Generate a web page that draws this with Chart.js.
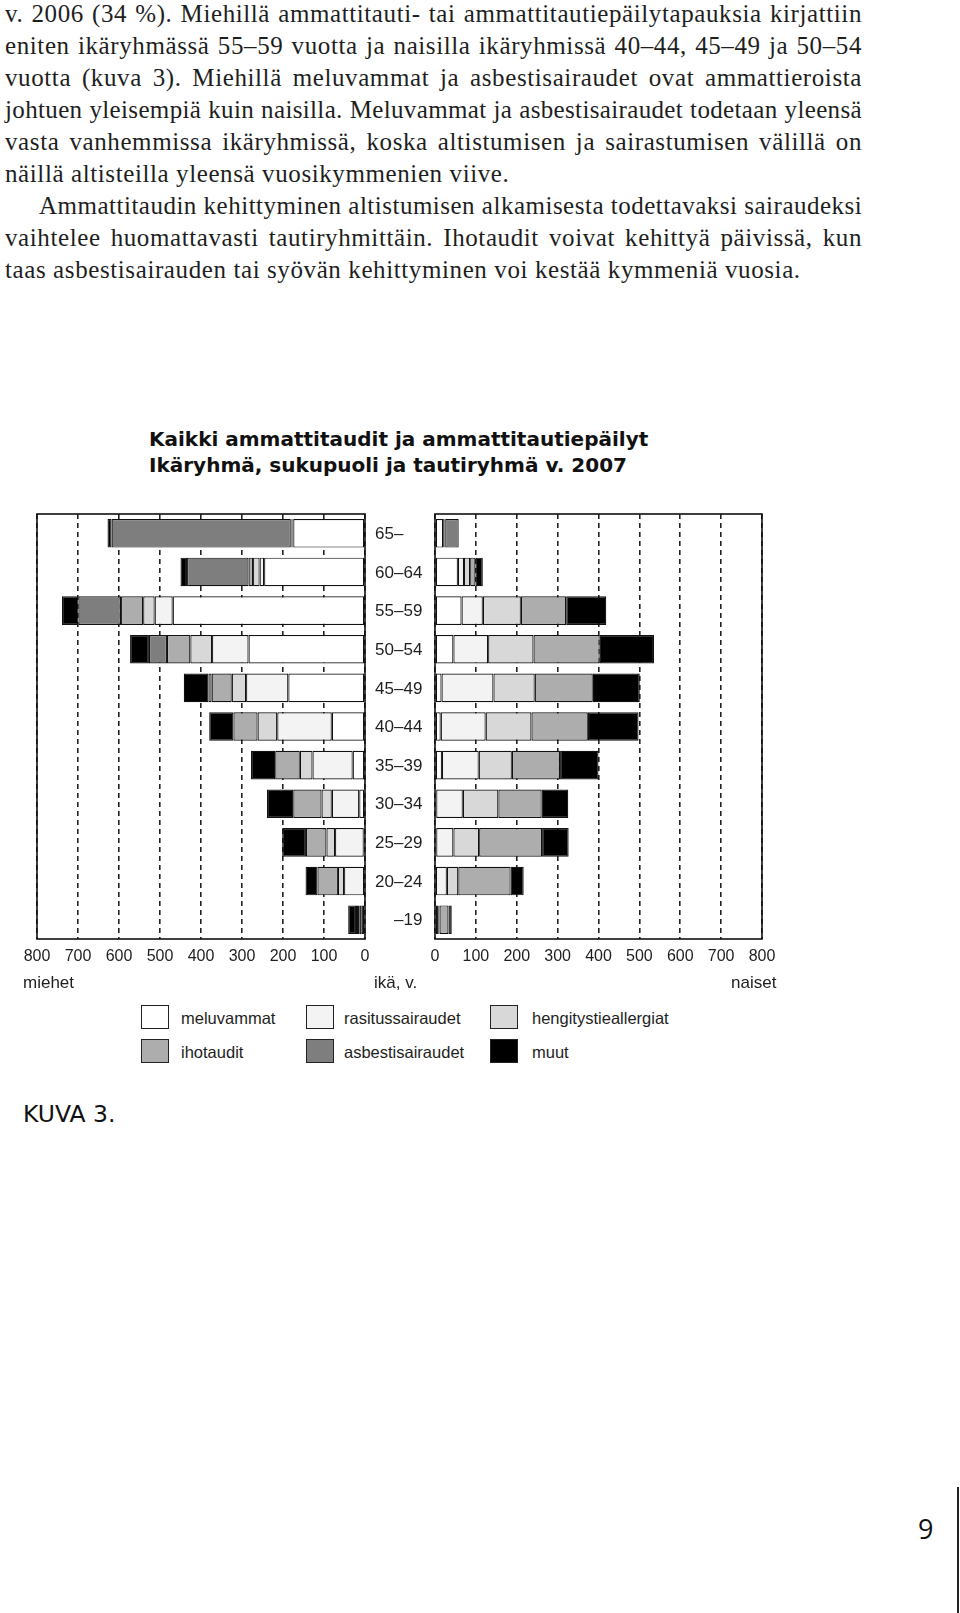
<!DOCTYPE html>
<html>
<head>
<meta charset="utf-8">
<script src="https://cdn.jsdelivr.net/npm/chart.js@4"></script>
<style>
  html, body { margin: 0; padding: 0; background: #fff; }
  body { width: 960px; height: 1613px; position: relative; overflow: hidden; color: #1e1e1e; }
  .txt { position: absolute; left: 5px; width: 857px; font-family: "Liberation Serif", serif; font-size: 25px; line-height: 32px; letter-spacing: 0.6px; }
  .ln { height: 32px; text-align: justify; text-align-last: justify; white-space: nowrap; }
  .ln.last { text-align-last: left; }
  .ln.ind { padding-left: 34px; }
  .title { position: absolute; left: 149px; top: 426px; font-family: "DejaVu Sans", sans-serif; font-weight: bold; font-size: 20px; line-height: 26px; color: #111; }
  .ab { position: absolute; font-family: "Liberation Sans", Arial, sans-serif; font-size: 17px; line-height: 20px; color: #1e1e1e; }
  canvas { position: absolute; }
  .lg { position: absolute; font-family: "Liberation Sans", Arial, sans-serif; font-size: 16.5px; color: #1e1e1e; }
  .lg .box { position: absolute; width: 26px; height: 22px; border: 1.5px solid #222; }
  .lg .lab { position: absolute; white-space: nowrap; line-height: 20px; }
  .kuva { position: absolute; left: 23px; top: 1100px; font-family: "DejaVu Sans", sans-serif; font-size: 23.5px; color: #111; }
  .pnum { position: absolute; left: 918px; top: 1510px; font-family: "Open Sans", sans-serif; font-size: 27px; color: #111; }
  .vline { position: absolute; left: 957px; top: 1487px; width: 1.5px; height: 130px; background: #222; }
</style>
</head>
<body>
<div class="txt" style="top:-2px">
  <div class="ln">v. 2006 (34 %). Miehillä ammattitauti- tai ammattitautiepäilytapauksia kirjattiin</div>
  <div class="ln">eniten ikäryhmässä 55–59 vuotta ja naisilla ikäryhmissä 40–44, 45–49 ja 50–54</div>
  <div class="ln">vuotta (kuva 3). Miehillä meluvammat ja asbestisairaudet ovat ammattieroista</div>
  <div class="ln">johtuen yleisempiä kuin naisilla. Meluvammat ja asbestisairaudet todetaan yleensä</div>
  <div class="ln">vasta vanhemmissa ikäryhmissä, koska altistumisen ja sairastumisen välillä on</div>
  <div class="ln last">näillä altisteilla yleensä vuosikymmenien viive.</div>
  <div class="ln ind">Ammattitaudin kehittyminen altistumisen alkamisesta todettavaksi sairaudeksi</div>
  <div class="ln">vaihtelee huomattavasti tautiryhmittäin. Ihotaudit voivat kehittyä päivissä, kun</div>
  <div class="ln last">taas asbestisairauden tai syövän kehittyminen voi kestää kymmeniä vuosia.</div>
</div>

<div class="title">Kaikki ammattitaudit ja ammattitautiepäilyt<br>Ikäryhmä, sukupuoli ja tautiryhmä v. 2007</div>

<canvas id="men" width="380" height="480" style="left:0;top:500px;width:380px;height:480px"></canvas>
<canvas id="women" width="440" height="480" style="left:360px;top:500px;width:440px;height:480px"></canvas>

<div class="ab" style="left:23px;top:973px">miehet</div>
<div class="ab" style="left:374px;top:973px">ikä, v.</div>
<div class="ab" style="left:731px;top:973px">naiset</div>

<div id="legend"></div>

<div class="kuva">KUVA 3.</div>
<div class="pnum">9</div>
<div class="vline"></div>

<script>
// tiivistetään liian pitkät rivit, jotta ne mahtuvat palstaan
document.querySelectorAll('.ln').forEach(el => {
    let ls = 0.6;
    while (el.scrollWidth > el.clientWidth && ls > -1.5) {
        ls -= 0.05;
        el.style.letterSpacing = ls + 'px';
    }
});

// ikäryhmät ylhäältä alas
const ages = ['65–', '60–64', '55–59', '50–54', '45–49', '40–44', '35–39', '30–34', '25–29', '20–24', '–19'];
const groups = ['meluvammat', 'rasitussairaudet', 'hengitystieallergiat', 'ihotaudit', 'asbestisairaudet', 'muut'];
const fills = ['#ffffff', '#f3f3f3', '#d8d8d8', '#adadad', '#7e7e7e', '#000000'];
const xTicks = [0, 100, 200, 300, 400, 500, 600, 700, 800];

// miehet
const menMelu    = [175, 246, 469, 284, 187,  81,  30,  14,   3,   2,  8];
const menRasitus = [  2,  11,  44,  89, 103, 133,  98,  67,  70,  49,  6];
const menHengitys= [  2,  16,  28,  53,  35,  48,  31,  25,  21,  15,  3];
const menIho     = [  2,  11,  54,  57,  49,  59,  60,  69,  50,  50,  5];
const menAsbesti = [437, 150, 104,  44,   8,   0,   0,   0,   0,   0,  0];
const menMuut    = [ 10,  16,  40,  46,  60,  59,  59,  64,  58,  29, 19];

// naiset
const womenMelu    = [20,  56,  65,  45,  16,  14,  17,   3,   3,   2,  5];
const womenRasitus = [ 2,  15,  52,  85, 127, 110,  90,  65,  42,  27,  3];
const womenHengitys= [ 1,  15,  93, 111, 101, 112,  81,  87,  63,  28,  3];
const womenIho     = [ 2,  13, 111, 162, 142, 138, 118, 106, 154, 128, 22];
const womenAsbesti = [33,   0,   0,   0,   0,   0,   0,   0,   0,   0,  0];
const womenMuut    = [ 0,  18,  98, 133, 115, 124,  94,  65,  65,  32,  8];

const menData = [menMelu, menRasitus, menHengitys, menIho, menAsbesti, menMuut];
const womenData = [womenMelu, womenRasitus, womenHengitys, womenIho, womenAsbesti, womenMuut];

Chart.defaults.font.family = '"Liberation Sans", Arial, sans-serif';
Chart.defaults.color = '#1e1e1e';

function makeSets(data) {
    return groups.map((g, i) => ({
        label: g,
        data: data[i],
        backgroundColor: fills[i],
        borderColor: '#111',
        borderWidth: 1.2,
        borderSkipped: false,
        barPercentage: 0.74,
        categoryPercentage: 1
    }));
}

// kehys kuvaajan ympärille
const frame = {
    id: 'frame',
    afterDraw(chart) {
        const a = chart.chartArea, c = chart.ctx;
        c.save();
        c.strokeStyle = '#111';
        c.lineWidth = 1.6;
        c.strokeRect(a.left, a.top, a.right - a.left, a.bottom - a.top);
        c.restore();
    }
};

// ikäryhmien nimet, viivat kohdakkain
const ageLabels = {
    id: 'ageLabels',
    afterDraw(chart) {
        const c = chart.ctx, y = chart.scales.y;
        const dashX = 34;
        c.save();
        c.font = '17px "Liberation Sans", Arial, sans-serif';
        c.fillStyle = '#1e1e1e';
        c.textBaseline = 'middle';
        c.textAlign = 'left';
        ages.forEach((lab, i) => {
            const pre = lab.split('–')[0];
            c.fillText(lab, dashX - c.measureText(pre).width, y.getPixelForValue(i) + 1);
        });
        c.restore();
    }
};

function opts(reverse, pad) {
    return {
        indexAxis: 'y',
        responsive: false,
        animation: false,
        layout: { padding: pad },
        plugins: { legend: { display: false }, tooltip: { enabled: false } },
        scales: {
            x: {
                stacked: true,
                reverse: reverse,
                min: 0, max: 800,
                afterBuildTicks: (s) => { s.ticks = xTicks.map(v => ({ value: v })); },
                afterFit: (s) => { s.height = 41; },
                ticks: { padding: 8, font: { size: 16 }, color: '#1e1e1e' },
                grid: { color: '#222', lineWidth: 1.6, drawTicks: false },
                border: { display: false, dash: [5, 4] }
            },
            y: {
                stacked: true,
                display: false
            }
        }
    };
}

new Chart(document.getElementById('men'), {
    type: 'bar',
    data: { labels: ages, datasets: makeSets(menData) },
    options: opts(true, { left: 37, right: 15, top: 14, bottom: 0 }),
    plugins: [frame]
});

new Chart(document.getElementById('women'), {
    type: 'bar',
    data: { labels: ages, datasets: makeSets(womenData) },
    options: opts(false, { left: 75, right: 38, top: 14, bottom: 0 }),
    plugins: [frame, ageLabels]
});

// selite
const lgPos = [[141, 1005], [306, 1005], [490, 1005], [141, 1039], [306, 1039], [490, 1039]];
const lgText = [181, 344, 532];
const lg = document.getElementById('legend');
groups.forEach((g, i) => {
    const d = document.createElement('div');
    d.className = 'lg';
    d.style.left = '0px';
    d.style.top = '0px';
    const b = document.createElement('div');
    b.className = 'box';
    b.style.left = lgPos[i][0] + 'px';
    b.style.top = lgPos[i][1] + 'px';
    b.style.background = fills[i];
    const t = document.createElement('div');
    t.className = 'lab';
    t.style.left = lgText[i % 3] + 'px';
    t.style.top = (lgPos[i][1] + 3) + 'px';
    t.textContent = g;
    d.appendChild(b);
    d.appendChild(t);
    lg.appendChild(d);
});
</script>
</body>
</html>
